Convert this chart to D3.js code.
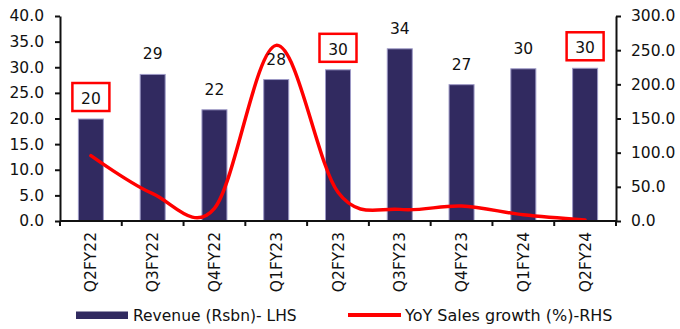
<!DOCTYPE html>
<html>
<head>
<meta charset="utf-8">
<script src="https://cdn.jsdelivr.net/npm/d3@7"></script>
<style>
  html, body { margin: 0; padding: 0; background: #fff; }
  svg { display: block; font-family: "DejaVu Sans", Verdana, sans-serif; }
</style>
</head>
<body>
<svg id="chart" width="680" height="329"></svg>
<script>
// Quarterly revenue (Rs bn, left axis) and YoY sales growth (%, right axis)
const quarters = ["Q2FY22", "Q3FY22", "Q4FY22", "Q1FY23", "Q2FY23", "Q3FY23", "Q4FY23", "Q1FY24", "Q2FY24"];
const revenue = [19.9, 28.6, 21.7, 27.6, 29.5, 33.6, 26.6, 29.7, 29.8];
const yoyGrowth = [95.6, 40, 18.5, 257, 42, 17, 22, 9, 1.5];
// Quarters whose revenue label is boxed
const boxedQuarters = ["Q2FY22", "Q2FY23", "Q2FY24"];
const leftTicks = [0, 5, 10, 15, 20, 25, 30, 35, 40];
const rightTicks = [0, 50, 100, 150, 200, 250, 300];
const legendLabels = ["Revenue (Rsbn)- LHS", "YoY Sales growth (%)-RHS"];

const BAR = "#312a60", BAR_EDGE = "#9d99c6", LINE = "#ff0000", INK = "#111";
const FS = 15.5;

const svg = d3.select("#chart");
const plot = { left: 60, right: 616, top: 16, bottom: 221 };

const xSlot = d3.scaleBand().domain(quarters).range([plot.left, plot.right]);
const yL = d3.scaleLinear().domain([0, 40]).range([plot.bottom, plot.top]);
const yR = d3.scaleLinear().domain([0, 300]).range([plot.bottom, plot.top]);
const fmt1 = d3.format(".1f");
const fmt0 = d3.format(".0f");
const cx = q => xSlot(q) + xSlot.bandwidth() / 2;

// Bars
svg.append("g").selectAll("rect").data(quarters).join("rect")
  .attr("x", q => cx(q) - 12.5)
  .attr("width", 25)
  .attr("y", (q, i) => yL(revenue[i]))
  .attr("height", (q, i) => yL(0) - yL(revenue[i]))
  .attr("fill", BAR)
  .attr("stroke", BAR_EDGE)
  .attr("stroke-width", 1);

// Growth line (smoothed)
const line = d3.line()
  .x(d => cx(d.q))
  .y(d => yR(d.v))
  .curve(d3.curveCardinal.tension(0));
svg.append("path")
  .datum(quarters.map((q, i) => ({ q, v: yoyGrowth[i] })))
  .attr("d", line)
  .attr("fill", "none")
  .attr("stroke", LINE)
  .attr("stroke-width", 3.5)
  .attr("stroke-linecap", "round")
  .attr("stroke-linejoin", "round");

// Axes
const axisStyle = g => {
  g.selectAll(".domain").attr("stroke", INK).attr("stroke-width", 2);
  g.selectAll(".tick line").attr("stroke", INK).attr("stroke-width", 2);
  g.selectAll(".tick text").attr("fill", INK).attr("font-size", FS);
};

svg.append("g")
  .attr("transform", `translate(${plot.left},0)`)
  .call(d3.axisLeft(yL).tickValues(leftTicks).tickFormat(fmt1).tickSize(5).tickSizeOuter(0).tickPadding(11))
  .attr("font-family", null)
  .call(axisStyle);

svg.append("g")
  .attr("transform", `translate(${plot.right},0)`)
  .call(d3.axisRight(yR).tickValues(rightTicks).tickFormat(fmt1).tickSize(5).tickSizeOuter(0).tickPadding(10))
  .attr("font-family", null)
  .call(axisStyle);

// Category axis with ticks on slot boundaries
const xAxis = svg.append("g");
xAxis.append("line")
  .attr("x1", plot.left).attr("x2", plot.right)
  .attr("y1", plot.bottom).attr("y2", plot.bottom)
  .attr("stroke", INK).attr("stroke-width", 2);
const bounds = quarters.map(q => xSlot(q)).concat([xSlot(quarters[quarters.length - 1]) + xSlot.bandwidth()]);
xAxis.selectAll("line.tk").data(bounds).join("line")
  .attr("class", "tk")
  .attr("x1", d => d).attr("x2", d => d)
  .attr("y1", plot.bottom).attr("y2", plot.bottom + 5)
  .attr("stroke", INK).attr("stroke-width", 2);
xAxis.selectAll("text").data(quarters).join("text")
  .attr("transform", q => `translate(${cx(q)},${plot.bottom + 11}) rotate(-90)`)
  .attr("text-anchor", "end")
  .attr("dy", "0.36em")
  .attr("font-size", FS)
  .attr("fill", INK)
  .text(q => q);

// Value labels and highlight boxes
const labels = svg.append("g");
quarters.forEach((q, i) => {
  const base = yL(revenue[i]) - 15;
  if (boxedQuarters.includes(q)) {
    labels.append("rect")
      .attr("x", cx(q) - 18.5).attr("y", base - 21)
      .attr("width", 37).attr("height", 28)
      .attr("fill", "#fff")
      .attr("stroke", LINE).attr("stroke-width", 2.5);
  }
  labels.append("text")
    .attr("x", cx(q)).attr("y", base)
    .attr("text-anchor", "middle")
    .attr("font-size", FS)
    .attr("fill", INK)
    .text(fmt0(revenue[i]));
});

// Legend
const legend = svg.append("g");
legend.append("rect").attr("x", 76).attr("y", 311.5).attr("width", 52).attr("height", 7.5).attr("fill", BAR);
legend.append("text").attr("x", 133).attr("y", 320.5).attr("font-size", FS).attr("fill", INK).text(legendLabels[0]);
legend.append("line").attr("x1", 348).attr("x2", 401).attr("y1", 315).attr("y2", 315)
  .attr("stroke", LINE).attr("stroke-width", 4);
legend.append("text").attr("x", 405).attr("y", 320.5).attr("font-size", 16).attr("fill", INK).text(legendLabels[1]);
</script>
</body>
</html>
